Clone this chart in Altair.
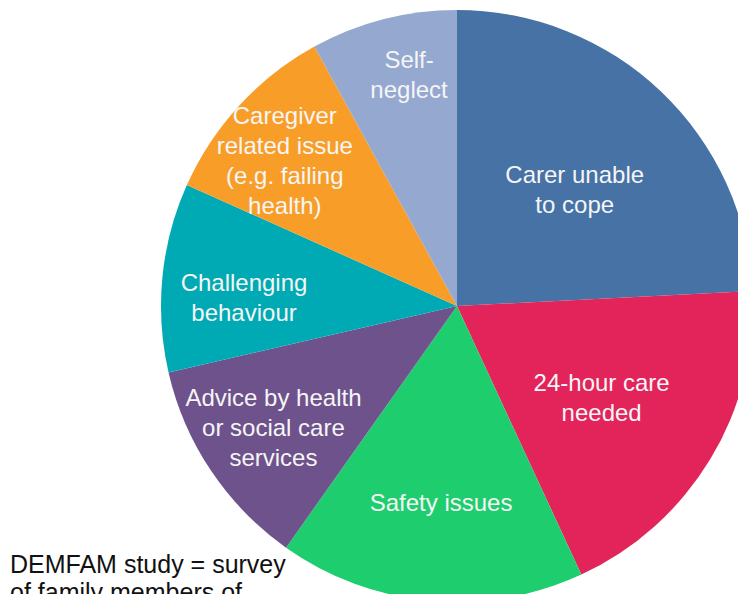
import altair as alt
import pandas as pd

# Data
categories = [
    "Carer unable to cope",
    "24-hour care needed",
    "Safety issues",
    "Advice by health or social care services",
    "Challenging behaviour",
    "Caregiver related issue (e.g. failing health)",
    "Self-neglect",
]
labels = [
    "Carer unable\nto cope",
    "24-hour care\nneeded",
    "Safety issues",
    "Advice by health\nor social care\nservices",
    "Challenging\nbehaviour",
    "Caregiver\nrelated issue\n(e.g. failing\nhealth)",
    "Self-\nneglect",
]
values = [24.2, 18.9, 16.7, 11.6, 10.3, 10.3, 8.0]
colors = ["#4672a6", "#e2245a", "#1ecd6e", "#6e528c", "#00aab4", "#f89e28", "#94a8d0"]
note_text = "DEMFAM study = survey\nof family members of"

# Layout: label distance from centre and small nudges (px)
label_radius = [165, 169, 197, 221, 214, 226, 237]
label_dx = [4, 0, 2, 0, 0, -6, 11]
label_dy = [5, 6, 2, 0, 14, 9, 0]
LH = 30

df = pd.DataFrame({
    "category": categories,
    "label": labels,
    "value": values,
    "order": list(range(len(categories))),
    "lr": label_radius,
    "ldx": label_dx,
    "ldy": label_dy,
})

CX, CY, R = 449, 298, 296

pie = alt.Chart(df).mark_arc(outerRadius=R).encode(
    theta=alt.Theta("value:Q", stack=True),
    order=alt.Order("order:Q"),
    x=alt.value(CX),
    y=alt.value(CY),
    color=alt.Color("category:N", scale=alt.Scale(domain=categories, range=colors), legend=None),
)

text = alt.Chart(df).transform_window(
    cum="sum(value)", sort=[alt.SortField("order")]
).transform_joinaggregate(
    total="sum(value)"
).transform_calculate(
    mid="(datum.cum - datum.value / 2) / datum.total * 2 * PI",
    nl="length(split(datum.label, '\\n'))",
).transform_calculate(
    lx=f"{CX} + datum.lr * sin(datum.mid) + datum.ldx",
    ly=f"{CY} - datum.lr * cos(datum.mid) + datum.ldy - (datum.nl - 1) * {LH} / 2",
).mark_text(
    font="Liberation Sans", fontSize=24, lineHeight=LH, lineBreak="\n",
    color="#f5f5f5", align="center", baseline="middle",
).encode(
    text="label:N",
    x=alt.X("lx:Q", scale=None, axis=None),
    y=alt.Y("ly:Q", scale=None, axis=None),
)

note = alt.Chart(pd.DataFrame({"t": [note_text]})).mark_text(
    font="Liberation Sans", fontSize=25, lineHeight=28, lineBreak="\n",
    color="#111111", align="left", baseline="middle",
).encode(
    text="t:N", x=alt.value(2), y=alt.value(557),
)

chart = alt.layer(pie, text, note).properties(
    width=730, height=586, padding=0, autosize=alt.AutoSizeParams(type="none")
).configure_view(stroke=None)

chart.save("out.html", embed_options={"renderer": "svg", "actions": False})
